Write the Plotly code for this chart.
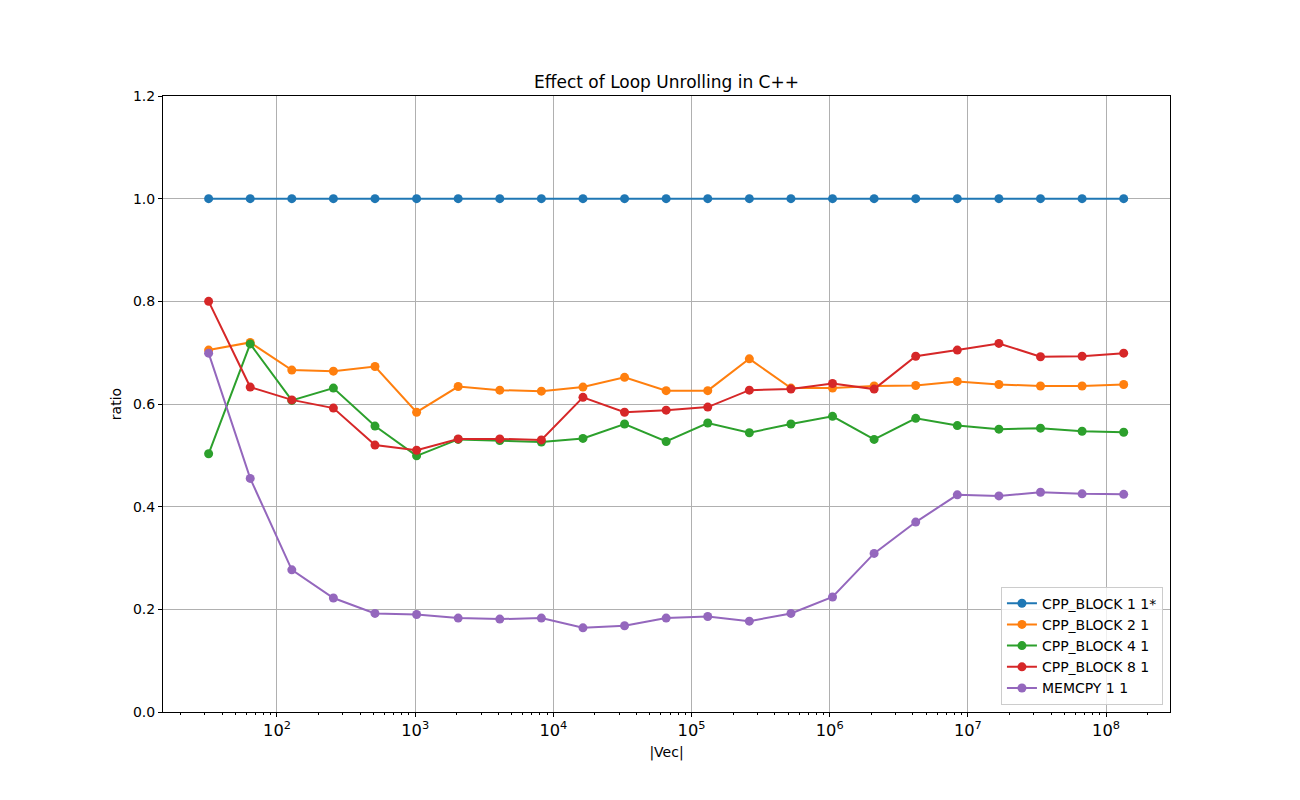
import plotly.graph_objects as go

vec_sizes = [2**k for k in range(5, 28)]

cpp_block_1 = [1.0] * 23
cpp_block_2 = [0.705, 0.720, 0.666, 0.664, 0.673, 0.584, 0.634, 0.627, 0.625, 0.633,
               0.652, 0.626, 0.626, 0.688, 0.631, 0.631, 0.635, 0.636, 0.644, 0.638,
               0.635, 0.635, 0.638]
cpp_block_4 = [0.503, 0.717, 0.607, 0.631, 0.557, 0.499, 0.531, 0.529, 0.526, 0.533,
               0.561, 0.527, 0.563, 0.544, 0.561, 0.576, 0.531, 0.572, 0.558, 0.551,
               0.553, 0.547, 0.545]
cpp_block_8 = [0.800, 0.633, 0.608, 0.592, 0.520, 0.510, 0.532, 0.532, 0.530, 0.613,
               0.584, 0.588, 0.594, 0.627, 0.629, 0.640, 0.629, 0.693, 0.705, 0.718,
               0.692, 0.693, 0.699]
memcpy_1 = [0.699, 0.455, 0.277, 0.222, 0.192, 0.190, 0.183, 0.181, 0.183, 0.164,
            0.168, 0.183, 0.186, 0.177, 0.192, 0.224, 0.309, 0.370, 0.423, 0.421,
            0.428, 0.425, 0.424]

series_names = ["CPP_BLOCK 1 1*", "CPP_BLOCK 2 1", "CPP_BLOCK 4 1", "CPP_BLOCK 8 1", "MEMCPY 1 1"]
series_values = [cpp_block_1, cpp_block_2, cpp_block_4, cpp_block_8, memcpy_1]
colors = ["#1f77b4", "#ff7f0e", "#2ca02c", "#d62728", "#9467bd"]

y_ticks = [0.0, 0.2, 0.4, 0.6, 0.8, 1.0, 1.2]

fig = go.Figure()
for name, vals, c in zip(series_names, series_values, colors):
    fig.add_trace(go.Scatter(
        x=vec_sizes, y=vals, name=name, mode="lines+markers",
        line=dict(color=c, width=2),
        marker=dict(color=c, size=9),
    ))

font = "DejaVu Sans"
fig.update_layout(
    width=1300, height=800,
    paper_bgcolor="white", plot_bgcolor="white",
    margin=dict(l=155, r=138, t=88, b=96),
    font=dict(family=font, size=14, color="black"),
    title=dict(text="Effect of Loop Unrolling in C++", x=0.5, xanchor="center",
               xref="paper", y=1 - 74 / 800, yanchor="middle",
               font=dict(size=17, family=font, color="black")),
    showlegend=True,
    legend=dict(x=0.993, y=0.012, xanchor="right", yanchor="bottom",
                bgcolor="rgba(255,255,255,0.8)", bordercolor="#cccccc", borderwidth=1,
                font=dict(size=14, family=font), tracegroupgap=0, itemwidth=30),
)
fig.update_xaxes(
    type="log", range=[1.175, 8.463],
    title=dict(text="|Vec|", font=dict(size=14), standoff=8),
    dtick=1, exponentformat="power", showexponent="all",
    tickfont=dict(size=13),
    showgrid=True, gridcolor="#b0b0b0", gridwidth=1,
    showline=True, linecolor="black", linewidth=1, mirror=True,
    ticks="outside", ticklen=4, tickcolor="black",
    minor=dict(ticks="outside", ticklen=2, tickcolor="black", showgrid=False),
    zeroline=False,
)
fig.update_yaxes(
    range=[0, 1.2], tickvals=y_ticks, tickformat=".1f",
    title=dict(text="ratio", font=dict(size=14), standoff=8),
    showgrid=True, gridcolor="#b0b0b0", gridwidth=1,
    showline=True, linecolor="black", linewidth=1, mirror=True,
    ticks="outside", ticklen=4, tickcolor="black",
    zeroline=False,
)

fig.write_html("out.html")
